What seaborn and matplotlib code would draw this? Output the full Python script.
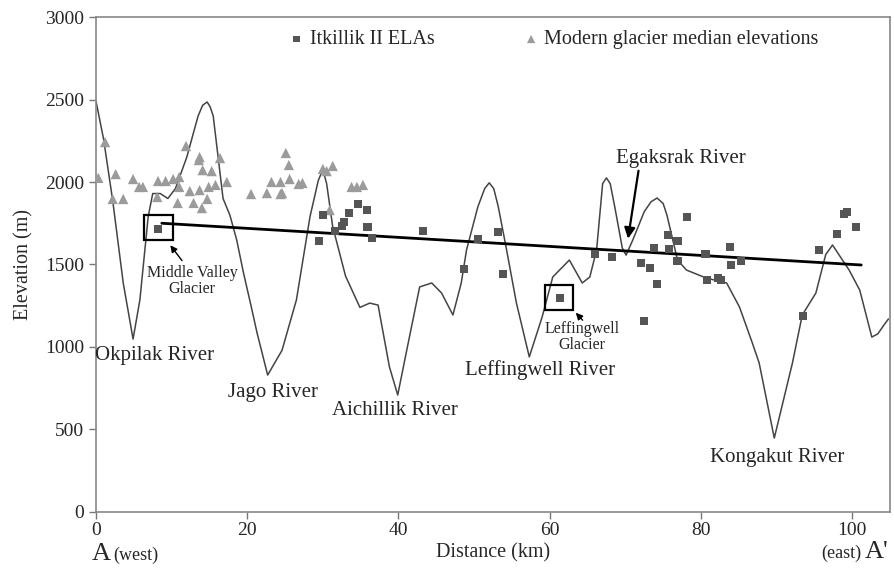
import numpy as np
import pandas as pd
import matplotlib
matplotlib.use("Agg")
import matplotlib.pyplot as plt
import matplotlib.patches as mpatches
import seaborn as sns

# topographic profile along A - A'
profile_km = [0, 1, 2.2, 3.6, 4.9, 5.8, 6.9, 7.5, 8.5, 9.5, 10.5, 12, 13.5, 14.1, 14.7,
              15.1, 15.5, 16.8, 17.7, 18.6, 19.5, 20.5, 21.3, 22.7, 24.6, 26.5, 28.3,
              29.4, 30, 30.5, 31.3, 33, 34.9, 36.2, 37.3, 38.8, 39.9, 41.1, 42.8, 44.4,
              45.7, 47.2, 48.3, 49, 50.5, 51.4, 52, 52.6, 53.2, 54.3, 55.6, 57.3, 59,
              60.4, 62.6, 64.3, 65.3, 66.2, 67.0, 67.5, 68.0, 68.6, 69.6, 70.1, 71,
              72.5, 73.4, 74.2, 75.0, 75.5, 76.9, 78.1, 80.7, 83.4, 85.1, 86.8, 87.7,
              89.7, 92.1, 93.4, 95.2, 96.5, 97.4, 99.6, 101, 102.6, 103.4, 104.2, 104.8]
profile_m = [2490, 2260, 1890, 1388, 1048, 1285, 1790, 1930, 1930, 1900, 1960, 2150,
             2400, 2465, 2485, 2455, 2400, 1900, 1800, 1650, 1450, 1250, 1085, 830,
             980, 1285, 1790, 2010, 2075, 1990, 1730, 1430, 1240, 1266, 1254, 880,
             709, 982, 1364, 1388, 1327, 1194, 1388, 1588, 1850, 1960, 1995, 1960,
             1850, 1588, 1266, 940, 1182, 1424, 1527, 1388, 1424, 1588, 1990, 2025,
             1990, 1850, 1600, 1557, 1650, 1820, 1880, 1903, 1870, 1800, 1527, 1466,
             1418, 1388, 1242, 1024, 903, 448, 903, 1194, 1327, 1560, 1618, 1466,
             1345, 1060, 1080, 1133, 1170]

# Itkillik II ELAs
ela_km = [8.2, 29.5, 30.0, 31.6, 32.5, 32.8, 33.4, 34.6, 35.8, 35.9, 36.5, 43.2,
          48.7, 50.5, 53.2, 53.8, 61.4, 66.0, 68.2, 72.1, 73.3, 74.2, 72.5, 73.8,
          75.7, 75.8, 76.9, 76.9, 78.2, 80.6, 80.8, 82.3, 82.7, 83.9, 84.0, 85.3,
          93.5, 95.6, 98.0, 98.9, 99.3, 100.5]
ela_m = [1715, 1640, 1800, 1703, 1733, 1757, 1811, 1866, 1830, 1727, 1660, 1703,
         1472, 1654, 1697, 1442, 1297, 1563, 1545, 1509, 1479, 1382, 1157, 1600,
         1679, 1594, 1642, 1521, 1788, 1563, 1406, 1418, 1406, 1606, 1497, 1521,
         1188, 1588, 1685, 1806, 1818, 1727]

# modern glacier median elevations
mod_km = [0.3, 1.2, 2.6, 2.2, 3.6, 4.9, 5.7, 6.2, 8.1, 8.2, 9.2, 10.2, 11.0, 11.0,
          10.8, 11.9, 12.4, 12.9, 13.6, 13.7, 14.1, 13.7, 14.0, 14.7, 14.9, 15.3,
          15.8, 16.4, 17.3, 20.5, 22.6, 23.2, 24.4, 24.4, 25.1, 25.5, 25.6, 26.8,
          27.3, 24.6, 30.0, 30.5, 31.3, 30.9, 33.8, 34.5, 35.3]
mod_m = [2025, 2242, 2048, 1897, 1897, 2018, 1970, 1970, 1909, 2006, 2006, 2018,
         2030, 1970, 1873, 2218, 1945, 1873, 2133, 2151, 2072, 1951, 1842, 1897,
         1970, 2066, 1982, 2145, 2000, 1927, 1933, 2000, 1927, 2000, 2176, 2103,
         2018, 1988, 1994, 1933, 2079, 2066, 2097, 1830, 1970, 1970, 1982]

# ELA trend line
trend_km = [8.7, 101.2]
trend_m = [1750, 1497]

rivers = ["Okpilak River", "Jago River", "Aichillik River", "Leffingwell River",
          "Kongakut River"]
river_km = [7.8, 23.4, 39.5, 58.7, 90.1]
river_m = [951, 727, 618, 860, 333]

sns.set_style("ticks")
plt.rcParams['font.family'] = ['Liberation Serif', 'DejaVu Serif']

fig = plt.figure(figsize=(8.94, 5.73), dpi=100)
ax = fig.add_axes([0.1074, 0.1065, 0.8881, 0.8638])

prof = pd.DataFrame({"km": profile_km, "m": profile_m})
sns.lineplot(data=prof, x="km", y="m", ax=ax, color="#444444", lw=1.1,
             sort=False, estimator=None, solid_joinstyle="round")

trend = pd.DataFrame({"km": trend_km, "m": trend_m})
sns.lineplot(data=trend, x="km", y="m", ax=ax, color="black", lw=2.0,
             estimator=None)

mod = pd.DataFrame({"km": mod_km, "m": mod_m})
sns.scatterplot(data=mod, x="km", y="m", ax=ax, marker="^", s=55,
                color="#9b9b9b", edgecolor="none", zorder=3,
                label="Modern glacier median elevations")

ela = pd.DataFrame({"km": ela_km, "m": ela_m})
sns.scatterplot(data=ela, x="km", y="m", ax=ax, marker="s", s=34,
                color="#555555", edgecolor="none", zorder=4,
                label="Itkillik II ELAs")

# glacier boxes
ax.add_patch(mpatches.Rectangle((6.3, 1648), 3.9, 152, fill=False, lw=1.6,
                                ec="black", zorder=5))
ax.add_patch(mpatches.Rectangle((59.4, 1224), 3.7, 152, fill=False, lw=1.6,
                                ec="black", zorder=5))

for name, x, y in zip(rivers, river_km, river_m):
    ax.text(x, y, name, ha="center", va="center", fontsize=15)

ax.text(12.7, 1400, "Middle Valley\nGlacier", ha="center", va="center",
        fontsize=11.5, linespacing=1.0)
ax.annotate("", xy=(9.6, 1630), xytext=(11.6, 1510),
            arrowprops=dict(arrowstyle="-|>", color="black", lw=1.0,
                            mutation_scale=10))
ax.text(64.3, 1060, "Leffingwell\nGlacier", ha="center", va="center",
        fontsize=11.5, linespacing=1.0)
ax.annotate("", xy=(63.2, 1220), xytext=(64.6, 1150),
            arrowprops=dict(arrowstyle="-|>", color="black", lw=1.0,
                            mutation_scale=10))

ax.text(77.4, 2145, "Egaksrak River", ha="center", va="center", fontsize=15)
ax.annotate("", xy=(70.3, 1640), xytext=(71.8, 2085),
            arrowprops=dict(arrowstyle="-|>", color="black", lw=1.6,
                            mutation_scale=16))

ax.set_xlim(0, 105)
ax.set_ylim(0, 3000)
ax.set_xticks([0, 20, 40, 60, 80, 100])
ax.set_yticks([0, 500, 1000, 1500, 2000, 2500, 3000])
ax.tick_params(labelsize=14, color="#777777", length=5, width=1)
ax.tick_params(axis="x", pad=2)
ax.set_xlabel("Distance (km)", fontsize=14.5, labelpad=3)
ax.set_ylabel("Elevation (m)", fontsize=14.5, labelpad=8)
for sp in ax.spines.values():
    sp.set_color("#888888")
    sp.set_linewidth(1.2)
    sp.set_visible(True)

h, l = ax.get_legend_handles_labels()
ax.legend(h[::-1], l[::-1], loc="upper center", bbox_to_anchor=(0.575, 1.01),
          ncol=2, frameon=False, fontsize=14.5, markerscale=0.8,
          handletextpad=0.15, columnspacing=4.3, handlelength=1.0)

fig.text(0.103, 0.022, "A", fontsize=19)
fig.text(0.127, 0.022, "(west)", fontsize=13)
fig.text(0.919, 0.026, "(east)", fontsize=13)
fig.text(0.967, 0.026, "A'", fontsize=19)

fig.savefig("out.png", dpi=100)
